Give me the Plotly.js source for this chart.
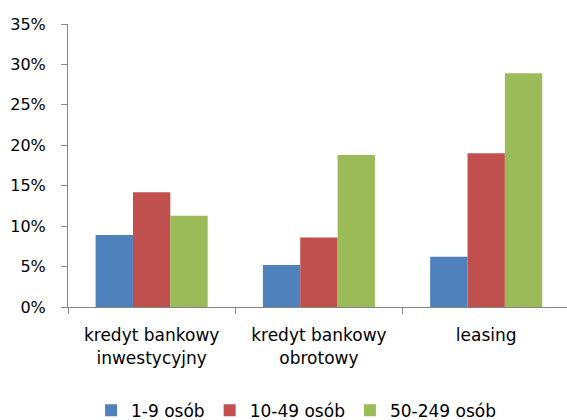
<!DOCTYPE html>
<html><head><meta charset="utf-8">
<script src="https://cdn.plot.ly/plotly-3.0.1.min.js"></script>
<style>html,body{margin:0;padding:0;background:#fff}#chart{width:567px;height:420px}</style>
</head><body><div id="chart"></div>
<script>
const categories = ["kredyt bankowy<br>inwestycyjny", "kredyt bankowy<br>obrotowy", "leasing"];
const seriesNames = ["1-9 osób", "10-49 osób", "50-249 osób"];
const small = [8.9, 5.2, 6.2];
const medium = [14.2, 8.6, 19.0];
const large = [11.3, 18.8, 28.9];
const yTicks = [0, 5, 10, 15, 20, 25, 30, 35];
const yTickLabels = yTicks.map(v => v + "%");
const colors = ["#4F81BD", "#C0504D", "#9BBB59"];

const series = [small, medium, large];
const traces = series.map((vals, i) => ({
  type: "bar", name: seriesNames[i], x: categories, y: vals,
  marker: {color: colors[i], line: {width: 0}}, hoverinfo: "skip"
}));

const font = {family: "DejaVu Sans", color: "#000"};
const layout = {
  width: 567, height: 420,
  margin: {l: 67.5, r: 0, t: 24, b: 112.7, autoexpand: false},
  paper_bgcolor: "#fff", plot_bgcolor: "#fff",
  barmode: "group", bargap: 0.33, bargroupgap: 0,
  font: Object.assign({size: 17}, font),
  showlegend: true,
  legend: {orientation: "h", x: 0.457, xanchor: "center", yref: "container", y: 0.022, yanchor: "middle",
           font: Object.assign({size: 17}, font), itemwidth: 30, traceorder: "normal"},
  xaxis: {range: [-0.5, 2.483], showgrid: false, zeroline: false, automargin: false,
          showline: true, linecolor: "#868686", linewidth: 1,
          ticks: "outside", tickson: "boundaries", ticklen: 6, tickcolor: "#868686",
          ticklabelstandoff: 13,
          tickfont: Object.assign({size: 17}, font), fixedrange: true},
  yaxis: {range: [0, 35], tickvals: yTicks, ticktext: yTickLabels, showgrid: false, zeroline: false, automargin: false,
          showline: true, linecolor: "#868686", linewidth: 1,
          ticks: "outside", ticklen: 6, tickcolor: "#868686",
          ticklabelstandoff: 12,
          tickfont: Object.assign({size: 16}, font), fixedrange: true}
};
Plotly.newPlot("chart", traces, layout, {staticPlot: true, displayModeBar: false});
</script></body></html>
